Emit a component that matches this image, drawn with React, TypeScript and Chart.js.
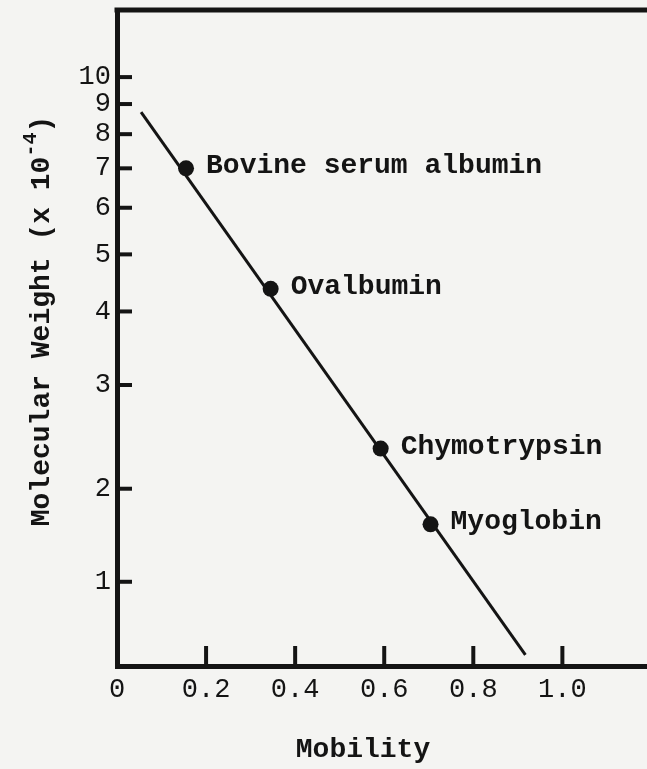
import React, { useEffect, useRef } from "react";
import { Chart, registerables } from "chart.js";

Chart.register(...registerables);

// ---- data ----
const proteinNames = ["Bovine serum albumin", "Ovalbumin", "Chymotrypsin", "Myoglobin"];
const proteinMobility = [0.155, 0.345, 0.592, 0.704];
const proteinWeight = [7.0, 4.37, 2.34, 1.74];

const fitMobility = [0.054, 0.917];
const fitWeight = [8.72, 1.044];

const xTickValues = [0, 0.2, 0.4, 0.6, 0.8, 1.0];
const xTickLabels = ["0", "0.2", "0.4", "0.6", "0.8", "1.0"];
const yTickValues = [1.39, 2, 3, 4, 5, 6, 7, 8, 9, 10];
const yTickLabels = ["1", "2", "3", "4", "5", "6", "7", "8", "9", "10"];

const xTitle = "Mobility";
const yTitleMain = "Molecular Weight (x 10";
const yTitleSup = "-4";
const yTitleEnd = ")";

const ink = "#141414";
const paper = "#f4f4f2";
const FONT = "'Liberation Mono', 'Courier New', monospace";

const overlay = {
  id: "overlay",
  beforeDraw(chart: any) {
    const { ctx, width, height } = chart;
    ctx.save();
    ctx.fillStyle = paper;
    ctx.fillRect(0, 0, width, height);
    ctx.restore();
  },
  afterDatasetsDraw(chart: any) {
    const { ctx, chartArea, scales } = chart;
    const xs = scales.x;
    const ys = scales.y;
    ctx.save();
    ctx.strokeStyle = ink;
    ctx.fillStyle = ink;
    ctx.lineCap = "butt";

    // top frame line
    ctx.lineWidth = 5;
    ctx.beginPath();
    ctx.moveTo(chartArea.left - 2.5, chartArea.top);
    ctx.lineTo(chart.width, chartArea.top);
    ctx.stroke();

    // inward tick marks on y
    ctx.lineWidth = 4;
    yTickValues.forEach((v) => {
      const py = ys.getPixelForValue(v);
      ctx.beginPath();
      ctx.moveTo(chartArea.left, py);
      ctx.lineTo(chartArea.left + 15, py);
      ctx.stroke();
    });
    // inward tick marks on x
    xTickValues.forEach((v) => {
      if (v === 0) return;
      const px = xs.getPixelForValue(v);
      ctx.beginPath();
      ctx.moveTo(px, chartArea.bottom);
      ctx.lineTo(px, chartArea.bottom - 20);
      ctx.stroke();
    });

    // point labels
    ctx.font = `bold 28px ${FONT}`;
    ctx.textAlign = "left";
    ctx.textBaseline = "middle";
    proteinNames.forEach((name, i) => {
      const px = xs.getPixelForValue(proteinMobility[i]);
      const py = ys.getPixelForValue(proteinWeight[i]);
      ctx.fillText(name, px + 20, py - 2);
    });

    // x title
    ctx.textAlign = "center";
    ctx.fillText(xTitle, 363, 750);

    // rotated y title with superscript
    ctx.translate(42, 321);
    ctx.rotate(-Math.PI / 2);
    const mainFont = `bold 28px ${FONT}`;
    const supFont = `bold 20px ${FONT}`;
    ctx.font = mainFont;
    const wMain = ctx.measureText(yTitleMain).width;
    const wEnd = ctx.measureText(yTitleEnd).width;
    ctx.font = supFont;
    const wSup = ctx.measureText(yTitleSup).width;
    const total = wMain + wSup + wEnd;
    let cx = -total / 2;
    ctx.textAlign = "left";
    ctx.textBaseline = "middle";
    ctx.font = mainFont;
    ctx.fillText(yTitleMain, cx, 0);
    cx += wMain;
    ctx.font = supFont;
    ctx.fillText(yTitleSup, cx, -11);
    cx += wSup;
    ctx.font = mainFont;
    ctx.fillText(yTitleEnd, cx, 0);

    ctx.restore();
  },
};

export default function App() {
  const canvasRef = useRef<HTMLCanvasElement | null>(null);

  useEffect(() => {
    document.body.style.margin = "0";
    document.body.style.background = paper;
    const canvas = canvasRef.current;
    if (!canvas) return;

    const chart = new Chart(canvas, {
      type: "scatter",
      data: {
        datasets: [
          {
            label: "fit",
            data: fitMobility.map((x, i) => ({ x, y: fitWeight[i] })),
            showLine: true,
            borderColor: ink,
            borderWidth: 3,
            pointRadius: 0,
          } as any,
          {
            label: "proteins",
            data: proteinMobility.map((x, i) => ({ x, y: proteinWeight[i] })),
            pointRadius: 8,
            pointBackgroundColor: ink,
            pointBorderWidth: 0,
            showLine: false,
          } as any,
        ],
      },
      options: {
        responsive: false,
        animation: false,
        layout: { autoPadding: false, padding: { top: 10, right: 0, bottom: 0, left: 0 } },
        plugins: {
          legend: { display: false },
          tooltip: { enabled: false },
        },
        scales: {
          x: {
            type: "linear",
            min: 0,
            max: 1.19,
            grid: { display: false, drawTicks: false },
            border: { display: true, color: ink, width: 5 },
            afterBuildTicks: (s: any) => {
              s.ticks = xTickValues.map((v) => ({ value: v }));
            },
            afterFit: (s: any) => {
              s.height = 103;
              s.paddingLeft = 0;
              s.paddingRight = 0;
            },
            ticks: {
              color: ink,
              padding: 8,
              maxRotation: 0,
              autoSkip: false,
              font: { family: FONT, size: 27 },
              callback: (_v: any, i: number) => xTickLabels[i],
            },
            title: { display: false },
          },
          y: {
            type: "logarithmic",
            min: 1,
            max: 13,
            grid: { display: false, drawTicks: false },
            border: { display: true, color: ink, width: 5 },
            afterBuildTicks: (s: any) => {
              s.ticks = yTickValues.map((v) => ({ value: v }));
            },
            afterFit: (s: any) => {
              s.width = 117;
              s.paddingTop = 0;
              s.paddingBottom = 0;
            },
            ticks: {
              color: ink,
              padding: 6,
              autoSkip: false,
              font: { family: FONT, size: 27 },
              callback: (_v: any, i: number) => yTickLabels[i],
            },
            title: { display: false },
          },
        },
      } as any,
      plugins: [overlay],
    });

    return () => {
      chart.destroy();
    };
  }, []);

  return (
    <canvas
      ref={canvasRef}
      width={647}
      height={769}
      style={{ display: "block", width: 647, height: 769 }}
    />
  );
}
